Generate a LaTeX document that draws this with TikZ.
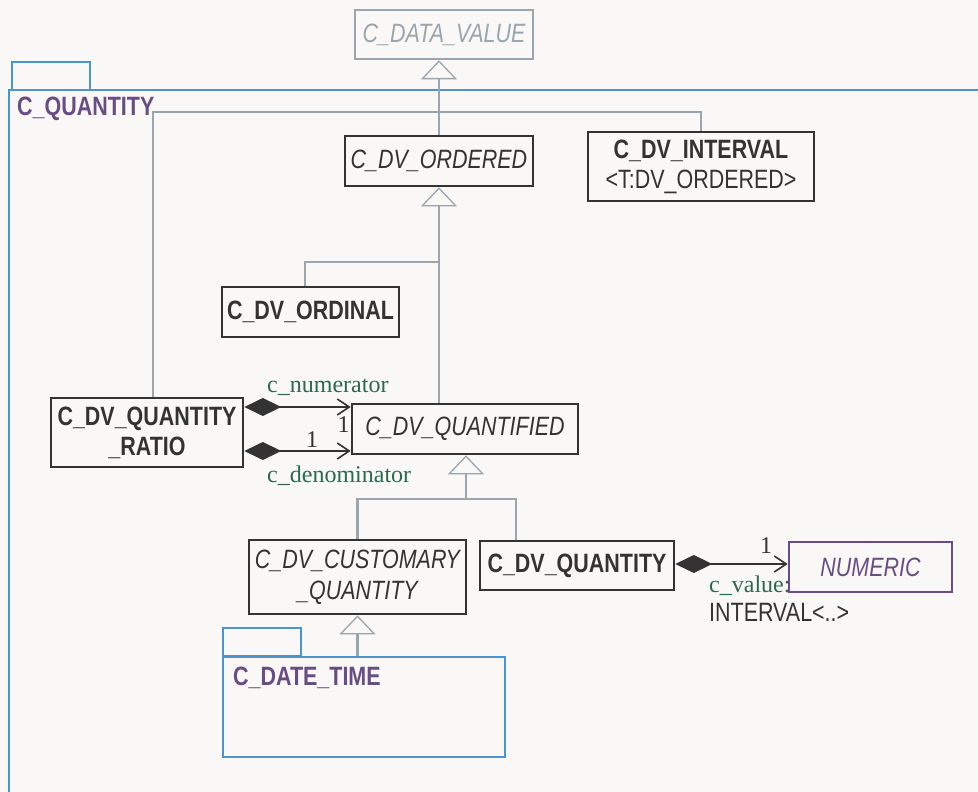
\documentclass[tikz,border=0pt]{standalone}
\usepackage{fontspec}
\setmainfont{Liberation Sans}[FakeStretch=0.81]
\newfontfamily\lblfont{Liberation Serif}
\usetikzlibrary{arrows.meta}
\definecolor{bgc}{HTML}{F9F8F6}
\definecolor{boxc}{HTML}{333333}
\definecolor{grayc}{HTML}{9AA5AD}
\definecolor{pkgc}{HTML}{4A94D0}
\definecolor{purp}{HTML}{6A4C85}
\definecolor{grn}{HTML}{2B6A4E}
\tikzset{
  cls/.style={draw=boxc, line width=2.6pt, text=boxc, inner sep=0pt, align=center},
  ital/.style={font=\fontsize{26.5}{30}\selectfont\itshape},
  bld/.style={font=\fontsize{26.5}{30}\selectfont\bfseries},
  gen/.style={draw=grayc, line width=2.3pt},
  gentip/.style={-{Triangle[length=19pt,width=36pt,line width=1.3pt,fill=bgc]}},
  comp/.style={draw=boxc, line width=2.3pt, {Diamond[length=37pt,width=18pt,fill=boxc]}-{Straight Barb[length=12pt,width=16pt,line width=1.6pt]}},
  lbl/.style={font=\lblfont\fontsize{24}{26}\selectfont, text=grn, inner sep=0pt, anchor=base west},
  mult/.style={font=\lblfont\fontsize{24}{26}\selectfont, text=boxc, inner sep=0pt, anchor=base},
  pkg/.style={draw=pkgc, line width=2.4pt},
  pkglabel/.style={font=\fontsize{26.5}{30}\selectfont\bfseries, text=purp, inner sep=0pt, anchor=base west},
}
\begin{document}
\begin{tikzpicture}[x=1pt,y=-1pt]
\useasboundingbox (0,0) rectangle (978,792);
\clip (0,0) rectangle (978,792);
\fill[bgc] (0,0) rectangle (978,792);

% package C_QUANTITY
\draw[pkg] (9,90) rectangle (1000,820);
\draw[pkg] (12,90) rectangle (90,62);
\node[pkglabel] (qlabel) at (17,116) {C\_QUANTITY};

% classes
\node[cls, draw=grayc, text=grayc, ital, minimum width=178pt, minimum height=49pt] (datavalue) at (444,34.5) {C\_DATA\_VALUE};
\node[cls, ital, minimum width=188pt, minimum height=50pt] (ordered) at (439,161) {C\_DV\_ORDERED};
\node[cls, font=\fontsize{26.5}{30}\selectfont, minimum width=226pt, minimum height=69pt] (interval) at (701,166.5) {\textbf{C\_DV\_INTERVAL}\\<T:DV\_ORDERED>};
\node[cls, bld, minimum width=177pt, minimum height=50pt] (ordinal) at (310.5,312) {C\_DV\_ORDINAL};
\node[cls, bld, minimum width=192pt, minimum height=69pt] (ratio) at (147,432.5) {C\_DV\_QUANTITY\\\_RATIO};
\node[cls, ital, minimum width=226pt, minimum height=50pt] (quantified) at (465,429) {C\_DV\_QUANTIFIED};
\node[cls, ital, font=\fontsize{26.5}{31}\selectfont\itshape, minimum width=217pt, minimum height=74pt] (customary) at (357.5,577) {C\_DV\_CUSTOMARY\\\_QUANTITY};
\node[cls, bld, minimum width=194pt, minimum height=49pt] (qty) at (577,565.5) {C\_DV\_QUANTITY};

% package C_DATE_TIME
\node[draw=pkgc, line width=2.4pt, minimum width=282pt, minimum height=100pt, inner sep=0pt] (datetime) at (364,707) {};
\draw[pkg] ([xshift=1pt]datetime.north west) rectangle ++(78,-28);
\node[pkglabel] (dtlabel) at (233,685) {C\_DATE\_TIME};

% labels near association to NUMERIC (drawn before the box)
\node[lbl] (vallbl) at (709,592) {c\_value:};
\node[cls, draw=purp, text=purp, ital, minimum width=163pt, minimum height=50pt] (numeric) at (870.5,567) {NUMERIC};
\node[anchor=base west, inner sep=0pt, text=boxc, font=\fontsize{26.5}{30}\selectfont] (ivl) at (709,621) {INTERVAL<..>};
\node[mult] (m3) at (766,553) {1};

% generalisations
\draw[gen, gentip] (ordered.north) -- (ordered.north |- datavalue.south);
\draw[gen, gentip] (quantified.north -| ordered.south) -- (ordered.south);
\draw[gen] ([xshift=-5.5pt]ordinal.north) |- (ordered.south |- 0,262);
\draw[gen] ([xshift=6pt]ratio.north) |- ([yshift=19pt]interval.north) -- (interval.north);
\coordinate (j) at (466,499);
\draw[gen] (customary.north) |- (j);
\draw[gen] ([xshift=-61pt]qty.north) |- (j);
\draw[gen, gentip] (j) -- (j |- quantified.south);
\draw[gen, gentip] (datetime.north -| customary.south) -- (customary.south);

% compositions
\draw[comp] ([yshift=25.5pt]ratio.east) coordinate (n1) -- (n1 -| quantified.west);
\draw[comp] ([yshift=-18.5pt]ratio.east) coordinate (d1) -- (d1 -| quantified.west);
\draw[comp] ([yshift=1.5pt]qty.east) coordinate (v1) -- (v1 -| numeric.west);

\node[lbl] (numlbl) at (267,392) {c\_numerator};
\node[mult] (m1) at (343.5,432) {1};
\node[mult] (m2) at (312,447) {1};
\node[lbl] (denlbl) at (267,482) {c\_denominator};
\end{tikzpicture}
\end{document}
